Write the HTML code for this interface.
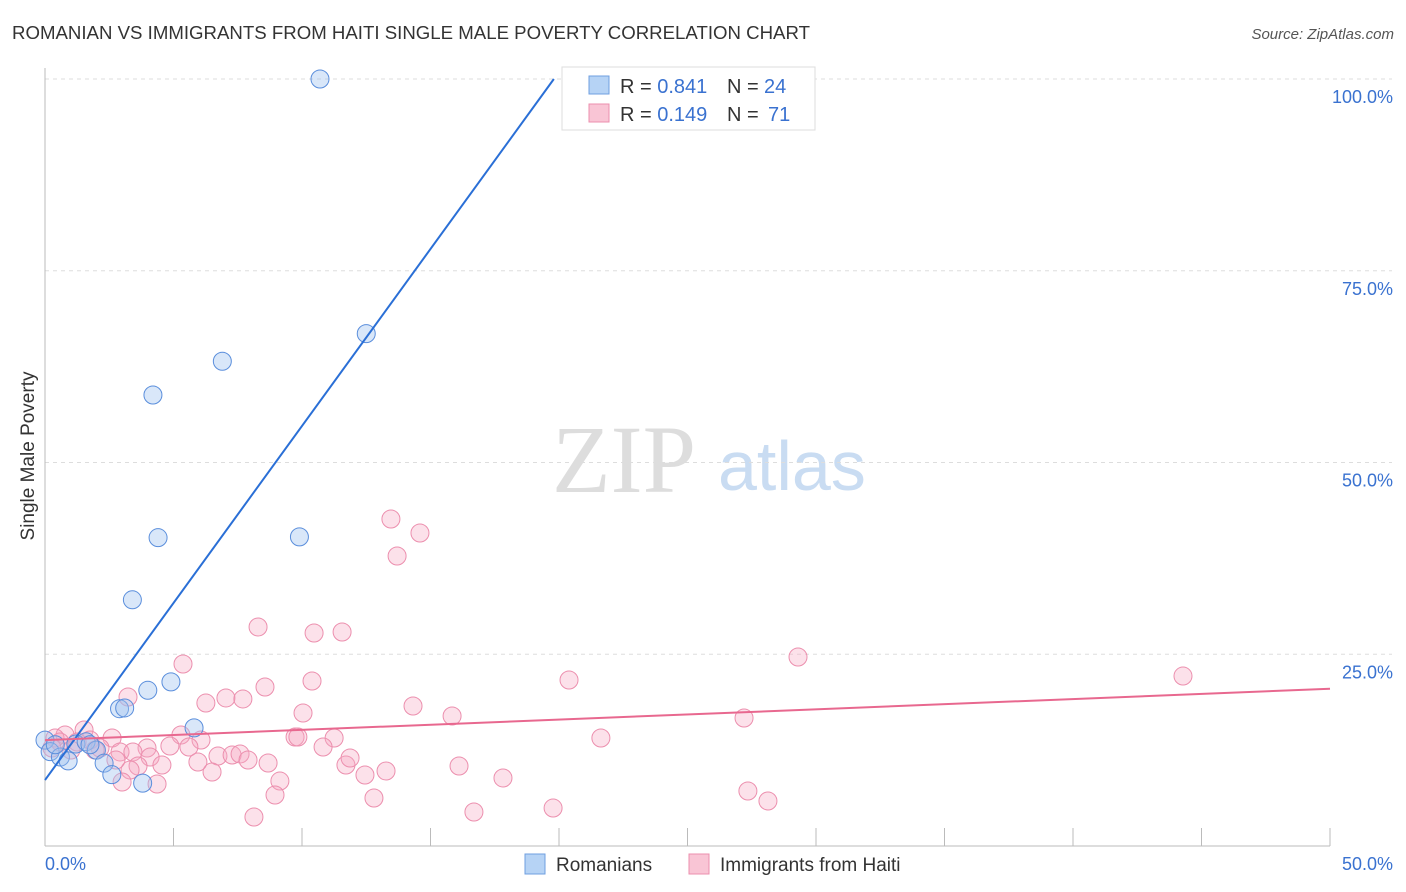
<!DOCTYPE html>
<html><head><meta charset="utf-8"><style>
body{margin:0;background:#fff;width:1406px;height:892px;overflow:hidden;font-family:"Liberation Sans",sans-serif}
svg{position:absolute;left:0;top:0}
</style></head><body>
<svg id="chart" width="1406" height="892">
<text x="12" y="39" font-size="18" fill="#333" textLength="798" lengthAdjust="spacingAndGlyphs">ROMANIAN VS IMMIGRANTS FROM HAITI SINGLE MALE POVERTY CORRELATION CHART</text>
<text x="1394" y="39" font-size="15" fill="#555" font-style="italic" text-anchor="end">Source: ZipAtlas.com</text>
<text x="0" y="0" transform="translate(34,456) rotate(-90)" font-size="19" fill="#333" text-anchor="middle">Single Male Poverty</text>
<text x="552" y="492" font-size="96" fill="#ddd" font-family="Liberation Serif,serif">ZIP</text>
<text x="718" y="490" font-size="70" fill="#c9dcf2">atlas</text>
<g id="grid"></g><g id="marks"></g>
<g>
<rect x="562" y="67" width="253" height="63" fill="#fff" stroke="#ddd"/>
<rect x="589" y="76" width="20" height="18" fill="#b6d3f5" stroke="#6f9fe0"/>
<rect x="589" y="104" width="20" height="18" fill="#f9c5d5" stroke="#ec8fae"/>
<text x="620" y="93" font-size="20" fill="#333">R = <tspan fill="#3a72d0">0.841</tspan><tspan x="727">N = </tspan><tspan x="764" fill="#3a72d0">24</tspan></text>
<text x="620" y="121" font-size="20" fill="#333">R = <tspan fill="#3a72d0">0.149</tspan><tspan x="727">N = </tspan><tspan x="768" fill="#3a72d0">71</tspan></text>
</g>
<g>
<rect x="525" y="854" width="20" height="20" fill="#b6d3f5" stroke="#6f9fe0"/>
<text x="556" y="871" font-size="19" fill="#333">Romanians</text>
<rect x="689" y="854" width="20" height="20" fill="#f9c5d5" stroke="#ec8fae"/>
<text x="720" y="871" font-size="19" fill="#333">Immigrants from Haiti</text>
</g>
</svg>
<script>
const yTicks=[25,50,75,100];
const yTickLabels=["25.0%","50.0%","75.0%","100.0%"];
const xTickLabels=["0.0%","50.0%"];
const blueX=[10.7,12.5,6.9,4.2,4.4,9.9,3.4,4.0,4.9,2.9,3.1,5.8,0.0,0.2,0.6,0.9,1.2,1.6,2.0,2.3,2.6,3.8,0.4,1.75];
const blueY=[100,66.8,63.2,58.8,40.2,40.3,32.1,20.3,21.4,17.9,18.0,15.4,13.8,12.3,11.6,11.1,13.3,13.6,12.5,10.8,9.3,8.2,13.2,13.2];
const pinkPx=[[391,519],[420,533],[397,556],[258,627],[314,633],[342,632],[183,664],[798,657],[569,680],[1183,676],[312,681],[265,687],[128,697],[206,703],[226,698],[243,699],[303,713],[413,706],[452,716],[744,718],[601,738],[295,737],[298,737],[334,738],[323,747],[181,735],[201,740],[170,746],[147,748],[112,738],[84,730],[65,735],[55,738],[90,740],[100,748],[120,752],[133,752],[150,757],[189,747],[218,756],[232,755],[240,754],[248,760],[268,763],[346,765],[350,758],[365,775],[386,771],[459,766],[503,778],[162,765],[138,766],[130,770],[122,782],[212,772],[198,762],[280,781],[275,795],[374,798],[474,812],[553,808],[748,791],[768,801],[254,817],[157,784],[116,760],[95,750],[77,742],[60,742],[52,748],[71,750]];
const pinkX=pinkPx.map(p=>+((p[0]-45)/25.7).toFixed(2));
const pinkY=pinkPx.map(p=>+((846-p[1])/7.67).toFixed(2));
const blueTrend=[8.6,100]; const blueTrendX=[0,19.8];
const pinkTrend=[13.8,20.5]; const pinkTrendX=[0,50];
const X=v=>45+v*25.7, Y=v=>846-v*7.67;
const NS="http://www.w3.org/2000/svg";
function mk(t,a,p){const e=document.createElementNS(NS,t);for(const k in a)e.setAttribute(k,a[k]);p.appendChild(e);return e;}
const g=document.getElementById('grid'), m=document.getElementById('marks');
yTicks.forEach((t,i)=>{
 const l=mk('line',{x1:45,x2:1392,y1:Y(t),y2:Y(t),stroke:'#ddd','stroke-dasharray':'4,4'},g);
 
 
 const tx=mk('text',{x:1393,y:Y(t)+24,'font-size':18,fill:'#3a72d0','text-anchor':'end'},g);
 tx.textContent=yTickLabels[i];
 
 
});
mk('line',{x1:45,x2:45,y1:68,y2:846,stroke:'#bbb'},g);
mk('line',{x1:45,x2:1330,y1:846,y2:846,stroke:'#bbb'},g);
for(let i=0;i<=10;i++){const x=X(i*5);const t=mk('line',{x1:x,x2:x,y1:828,y2:846,stroke:'#bbb'},g);
 
 }
[[0,'start',45],[1,'end',1393]].forEach(([i,a,x])=>{const t=mk('text',{x:x,y:870,'font-size':18,fill:'#3a72d0','text-anchor':a},g);t.textContent=xTickLabels[i];
 
 });
pinkX.forEach((x,i)=>{const c=mk('circle',{cx:X(x),cy:Y(pinkY[i]),r:9,fill:'rgba(246,170,195,0.35)',stroke:'#ec8fae','stroke-width':1},m);
 
 });
blueX.forEach((x,i)=>{const c=mk('circle',{cx:X(x),cy:Y(blueY[i]),r:9,fill:'rgba(160,195,240,0.4)',stroke:'#5a8edc','stroke-width':1},m);
 
 });
const bl=mk('line',{x1:X(blueTrendX[0]),y1:Y(blueTrend[0]),x2:X(blueTrendX[1]),y2:Y(blueTrend[1]),stroke:'#2a6fd6','stroke-width':2},m);


const pl=mk('line',{x1:X(pinkTrendX[0]),y1:Y(pinkTrend[0]),x2:X(pinkTrendX[1]),y2:Y(pinkTrend[1]),stroke:'#e8688f','stroke-width':2},m);


</script>
</body></html>
